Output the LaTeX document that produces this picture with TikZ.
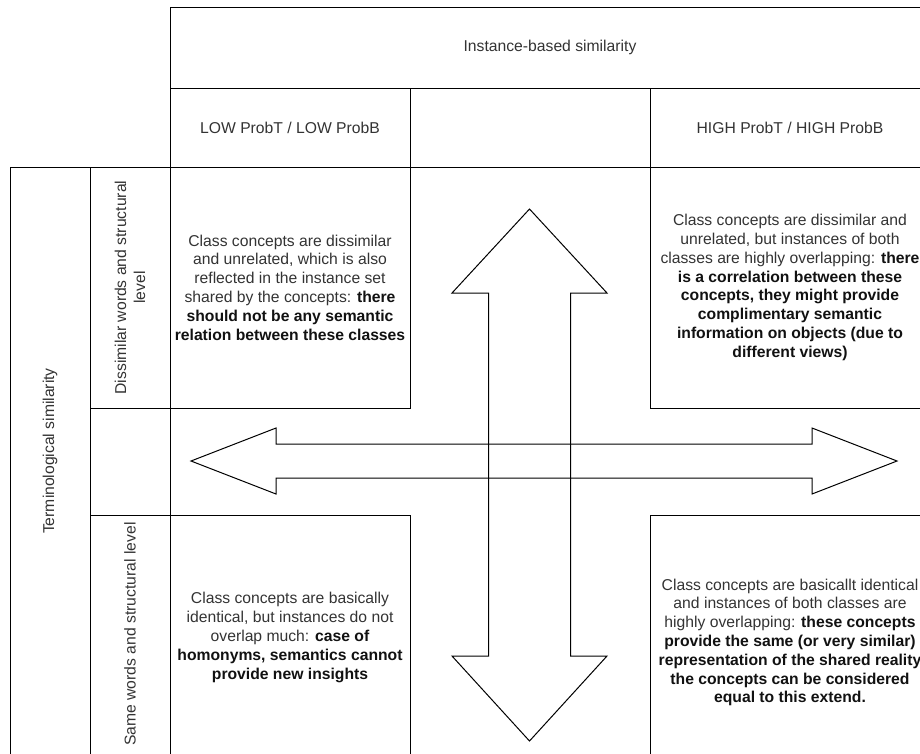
\documentclass[tikz,border=0pt]{standalone}
\usepackage{fontspec}
\setmainfont{Liberation Sans}
\definecolor{ink}{HTML}{333333}
\definecolor{inkbold}{HTML}{111111}
\newcommand\boldpart[1]{{\color{inkbold}\bfseries #1}}
\begin{document}
\begin{tikzpicture}[x=1pt,y=-1pt,
  grid/.style={draw=black, line width=1pt, rectangle, inner sep=0pt, outer sep=0pt, anchor=north west},
  body/.style={font=\fontsize{15.7}{18.8}\selectfont, text=ink, align=center},
  bigarrow/.style={draw=black, line width=1pt, line join=miter}]
\useasboundingbox (0,0) rectangle (920,753);

% column headers
\node[grid, body, minimum width=760, minimum height=81] (hdr) at (170,7) {Instance-based similarity};
\node[grid, body, minimum width=240, minimum height=79] (low) at (170,88) {LOW ProbT / LOW ProbB};
\node[grid, body, minimum width=240, minimum height=79] (mid) at (410,88) {};
\node[grid, body, minimum width=280, minimum height=79] (high) at (650,88) {HIGH ProbT / HIGH ProbB};

% row headers
\node[grid, minimum width=80, minimum height=593] (term) at (10,167) {};
\node[body, rotate=90] (termlbl) at (50,451) {Terminological similarity};
\node[grid, minimum width=80, minimum height=241] (diss) at (90,167) {};
\node[body, rotate=90] (disslbl) at (diss.center) {Dissimilar words and structural\\level};
\node[grid, minimum width=80, minimum height=107] (midrow) at (90,408) {};
\node[grid, minimum width=80, minimum height=245] (same) at (90,515) {};
\node[body, rotate=90] (samelbl) at (130,634) {Same words and structural level};

% quadrant cells
\node[grid, body, minimum width=240, minimum height=241] (tl) at (170,167) {%
Class concepts are dissimilar\\
and unrelated, which is also\\
reflected in the instance set\\
shared by the concepts: \boldpart{there}\\
\boldpart{should not be any semantic}\\
\boldpart{relation between these classes}};

\node[grid, body, minimum width=280, minimum height=241] (tr) at (650,167) {%
Class concepts are dissimilar and\\
unrelated, but instances of both\\
classes are highly overlapping: \boldpart{there}\\
\boldpart{is a correlation between these}\\
\boldpart{concepts, they might provide}\\
\boldpart{complimentary semantic}\\
\boldpart{information on objects (due to}\\
\boldpart{different views)}};

\node[grid, body, minimum width=240, minimum height=245] (bl) at (170,515) {%
Class concepts are basically\\
identical, but instances do not\\
overlap much: \boldpart{case of}\\
\boldpart{homonyms, semantics cannot}\\
\boldpart{provide new insights}};

\node[grid, body, minimum width=280, minimum height=255] (br) at (650,515) {%
Class concepts are basicallt identical\\
and instances of both classes are\\
highly overlapping: \boldpart{these concepts}\\
\boldpart{provide the same (or very similar)}\\
\boldpart{representation of the shared reality}\\
\boldpart{the concepts can be considered}\\
\boldpart{equal to this extend.}};

% vertical double arrow
\draw[bigarrow] (529.5,209) -- (607,293) -- (570.5,293) -- (570.5,656) -- (607,656)
  -- (529.5,741) -- (452,656) -- (488.5,656) -- (488.5,293) -- (452,293) -- cycle;

% horizontal double arrow
\draw[bigarrow] (191,461) -- (276,428) -- (276,444) -- (812,444) -- (812,428)
  -- (897,461) -- (812,494) -- (812,478) -- (276,478) -- (276,494) -- cycle;
\end{tikzpicture}
\end{document}
